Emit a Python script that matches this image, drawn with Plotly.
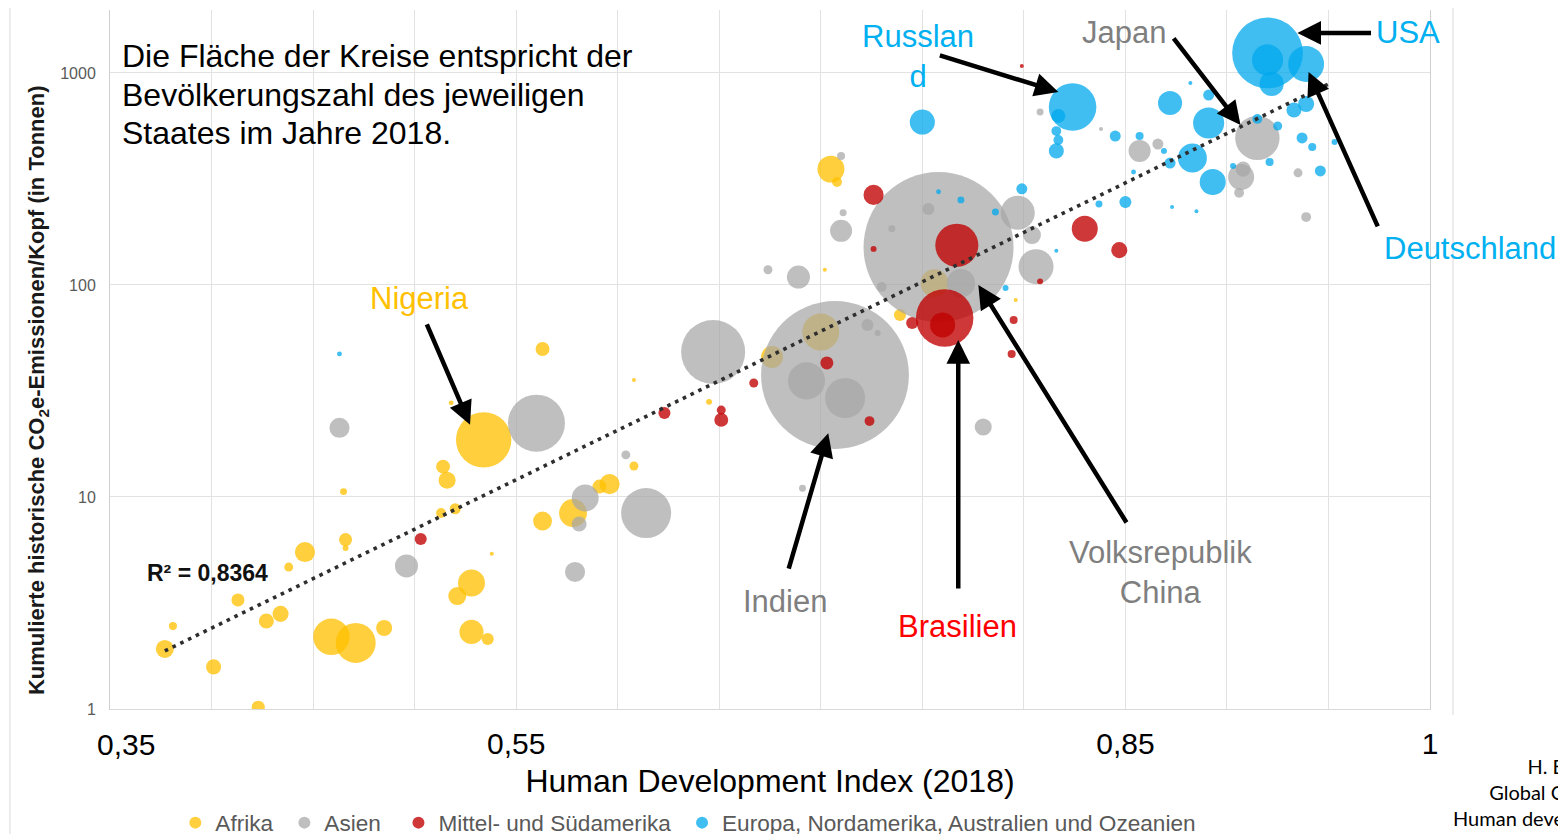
import math
import plotly.graph_objects as go

# ---------------- data ----------------
regions = ["Afrika", "Asien", "Mittel- und Südamerika",
           "Europa, Nordamerika, Australien und Ozeanien"]

hdi_afrika = [0.534, 0.518, 0.514, 0.516, 0.465, 0.513, 0.520, 0.466, 0.466, 0.446,
              0.438, 0.538, 0.528, 0.521, 0.413, 0.427, 0.434, 0.459, 0.471, 0.485,
              0.528, 0.536, 0.381, 0.377, 0.401, 0.423, 0.563, 0.608, 0.645, 0.608,
              0.596, 0.591, 0.578, 0.563, 0.676, 0.700, 0.705, 0.708, 0.702, 0.739,
              0.756, 0.796]
co2_afrika = [18.6, 27.8, 13.9, 12.0, 10.6, 8.4, 8.8, 6.3, 5.75, 5.5,
              4.67, 5.4, 3.93, 3.41, 3.27, 2.60, 2.81, 2.19, 2.05, 2.41,
              2.31, 2.14, 2.46, 1.92, 1.58, 1.02, 49.9, 35.6, 28.1, 14.0,
              11.5, 11.2, 8.4, 7.7, 45.7, 60.0, 352, 306, 118, 72.2,
              102, 85]
pop_afrika = [190, 1.5, 12, 18, 3, 6, 7.5, 10.5, 2.2, 25,
              5, 0.6, 45, 20, 10.5, 14, 16, 82, 99, 16,
              36, 9, 4, 20, 14, 10.5, 12, 1, 2.2, 5,
              25, 12, 48, 22, 30, 85, 45, 6, 1, 9,
              48, 1]

hdi_asien = [0.758, 0.707, 0.693, 0.712, 0.647, 0.560, 0.614, 0.463, 0.496, 0.584,
             0.581, 0.579, 0.604, 0.691, 0.780, 0.674, 0.689, 0.710, 0.711, 0.710,
             0.735, 0.753, 0.730, 0.723, 0.728, 0.769, 0.797, 0.804, 0.806, 0.808,
             0.838, 0.857, 0.866, 0.915, 0.907, 0.908, 0.906, 0.935, 0.939]
co2_asien = [151, 37.6, 35.3, 29.3, 48.3, 22.3, 8.4, 21.2, 4.73, 9.89,
             7.46, 4.43, 15.8, 11.0, 21.4, 118, 109, 180, 219, 406,
             184, 228, 97.9, 64.8, 59.4, 102, 219, 172, 122, 655,
             544, 429, 462, 494, 323, 352, 272, 338, 209]
pop_asien = [1393, 1353, 85, 99, 254, 201, 155, 25, 33, 45,
             14, 25, 5, 3, 18, 5, 33, 30, 3, 4,
             3, 9, 6, 9, 2.2, 50, 72, 20, 76, 3,
             1, 30, 7.5, 122, 42, 14, 6, 5, 6]

hdi_amerika = [0.761, 0.760, 0.767, 0.726, 0.726, 0.745, 0.830, 0.847, 0.808, 0.795,
               0.794, 0.799, 0.703, 0.724, 0.667, 0.651, 0.651, 0.623, 0.503]
co2_amerika = [69.9, 64.8, 154, 266, 148, 66.2, 184, 146, 104, 68.4,
               47.3, 1079, 42.9, 22.8, 34.5, 23.1, 25.7, 24.9, 6.34]
pop_amerika = [205, 39, 115, 25, 2.2, 9, 42, 16, 2.2, 4,
               4, 1, 10.5, 6, 5, 12, 5, 9, 9]

hdi_europa = [0.920, 0.920, 0.922, 0.939, 0.824, 0.817, 0.816, 0.817, 0.816, 0.750,
              0.845, 0.857, 0.869, 0.872, 0.882, 0.891, 0.891, 0.915, 0.883, 0.872,
              0.893, 0.903, 0.921, 0.925, 0.933, 0.939, 0.937, 0.942, 0.946, 0.953,
              0.850, 0.837, 0.854, 0.873, 0.885, 0.799, 0.786, 0.769, 0.758, 0.791,
              0.816, 0.463]
co2_europa = [1243, 1152, 888, 1102, 691, 627, 532, 483, 429, 587,
              504, 504, 429, 722, 897, 787, 581, 607, 397, 376,
              306, 364, 380, 562, 669, 714, 494, 448, 345, 473,
              246, 241, 341, 233, 223, 284, 221, 252, 275, 96.8,
              145, 47.3]
pop_europa = [310, 60, 36, 80, 140, 12, 6, 6, 14, 39,
              7.5, 4, 2.2, 36, 1, 7.5, 60, 6, 52, 7.5,
              42, 2.2, 4, 5, 14, 16, 7.5, 4, 7.5, 2.2,
              9, 3, 1.5, 1, 0.25, 7.5, 3, 3, 1.5, 2.2,
              0.56, 1.5]

# exponential trend line (end points)
trend_hdi = [0.377, 0.951]
trend_co2 = [1.88, 897]
r2_text = "R² = 0,8364"

x_tickvals = [0.55, 0.85, 1.0]
x_ticktext = ["0,55", "0,85", "1"]
x_first_label = "0,35"
y_tickvals = [1, 10, 100, 1000]
y_ticktext = ["1", "10", "100", "1000"]

# country labels (paper position) and arrows (data coords: tail -> head)
label_text = ["Nigeria", "Russlan<br>d", "Japan", "USA", "Deutschland",
              "Indien", "Brasilien", "Volksrepublik<br>China"]
label_px = [0.2341, 0.6121, 0.7682, 0.9833, 1.0303, 0.5114, 0.6424, 0.7955]
label_py = [0.5866, 0.9335, 0.9671, 0.9671, 0.6581, 0.1545, 0.1187, 0.1953]
label_color = ["#FFC000", "#00B0F0", "#7F7F7F", "#00B0F0", "#00B0F0",
               "#7F7F7F", "#FF0000", "#7F7F7F"]
arrow_tail_hdi = [0.5057, 0.7579, 0.8732, 0.9717, 0.9746, 0.6840, 0.7677, 0.8510]
arrow_tail_co2 = [66.2, 1216, 1479, 1545, 185.8, 4.52, 3.64, 7.46]
arrow_head_hdi = [0.5273, 0.8170, 0.9067, 0.9347, 0.9402, 0.7037, 0.7677, 0.7776]
arrow_head_co2 = [21.9, 813, 568, 1545, 1011, 20.0, 55.0, 100]

heading_lines = ["Die Fläche der Kreise entspricht der",
                 "Bevölkerungszahl des jeweiligen",
                 "Staates im Jahre 2018."]
heading_y = [0.9342, 0.8784, 0.8240]
source_text = "H. E<br>Global C<br>Human deve"
y_title = "<b>Kumulierte historische CO<sub>2</sub>e-Emissionen/Kopf (in Tonnen)</b>"

# ---------------- styling ----------------
FONT = "Liberation Sans, Arial, sans-serif"
colors = ["#FFC000", "#A6A6A6", "#C00000", "#00A8EC"]
opacities = [0.76, 0.72, 0.78, 0.75]
legend_pad = ["\u00a0", "\u00a0\u00a0", "\u00a0", ""]
SIZEREF = 2 * 1393 / 150 ** 2

fig = go.Figure()
series = [(hdi_afrika, co2_afrika, pop_afrika),
          (hdi_asien, co2_asien, pop_asien),
          (hdi_amerika, co2_amerika, pop_amerika),
          (hdi_europa, co2_europa, pop_europa)]
for name, pad, (xs, ys, ps), c, op in zip(regions, legend_pad, series, colors, opacities):
    fig.add_trace(go.Scatter(
        x=xs, y=ys, mode="markers", name=name + pad,
        marker=dict(size=ps, sizemode="area", sizeref=SIZEREF, sizemin=2,
                    color=c, opacity=op, line=dict(width=0)),
        hovertemplate=name + ": HDI %{x}, %{y} t<extra></extra>"))

fig.add_trace(go.Scatter(
    x=trend_hdi, y=trend_co2, mode="lines", showlegend=False, hoverinfo="skip",
    line=dict(color="#2E2E2E", width=3.6, dash="3.6px,5px")))

annotations = []
for line, yy in zip(heading_lines, heading_y):
    annotations.append(dict(xref="paper", yref="paper", x=0.0076, y=yy,
                            xanchor="left", yanchor="middle", text=line,
                            showarrow=False,
                            font=dict(family=FONT, size=32, color="black")))
for t, px, py, c in zip(label_text, label_px, label_py, label_color):
    annotations.append(dict(xref="paper", yref="paper", x=px, y=py, text=t,
                            showarrow=False, xanchor="center", yanchor="middle",
                            align="center",
                            font=dict(family=FONT, size=31, color=c)))
for tx, ty, hx, hy in zip(arrow_tail_hdi, arrow_tail_co2, arrow_head_hdi, arrow_head_co2):
    annotations.append(dict(xref="x", yref="y", axref="x", ayref="y",
                            x=hx, y=math.log10(hy), ax=tx, ay=math.log10(ty),
                            text="", showarrow=True, arrowhead=2, arrowsize=1.05,
                            arrowwidth=4.5, arrowcolor="black",
                            standoff=0, startstandoff=0))
annotations.append(dict(xref="paper", yref="paper", x=0.0742, y=0.1946,
                        text="<b>" + r2_text + "</b>", showarrow=False,
                        xanchor="center", yanchor="middle",
                        font=dict(family=FONT, size=23, color="#111111")))
annotations.append(dict(xref="paper", yref="paper", x=1.1030, y=-0.1187,
                        text=source_text, showarrow=False, xanchor="right",
                        yanchor="middle", align="right",
                        font=dict(family="Lato, Liberation Sans, sans-serif",
                                  size=20, color="black")))
annotations.append(dict(xref="paper", yref="paper", x=-0.0545, y=0.4564,
                        text=y_title, textangle=-90, showarrow=False,
                        xanchor="center", yanchor="middle",
                        font=dict(family=FONT, size=22, color="#1A1A1A")))
annotations.append(dict(xref="paper", yref="paper", x=0.0121, y=-0.0515,
                        text=x_first_label, showarrow=False,
                        xanchor="center", yanchor="middle",
                        font=dict(family=FONT, size=30, color="black")))

GRID = "#E2E2E2"
fig.update_layout(
    width=1558, height=826,
    margin=dict(l=102, r=136, t=2, b=125, pad=0, autoexpand=False),
    paper_bgcolor="white", plot_bgcolor="white",
    font=dict(family=FONT),
    showlegend=True,
    legend=dict(orientation="h", x=0.0495, y=-0.163, xanchor="left", yanchor="middle",
                font=dict(family=FONT, size=22.6, color="#595959"),
                itemsizing="constant", bgcolor="rgba(0,0,0,0)"),
    annotations=annotations,
    shapes=[
        dict(type="line", xref="paper", yref="paper", x0=1.0174, x1=1.0174,
             y0=-0.0086, y1=1.02, line=dict(color="#E6E6E6", width=1.5)),
        dict(type="line", xref="paper", yref="paper", x0=-0.0758, x1=-0.0758,
             y0=-0.18, y1=1.02, line=dict(color="#E6E6E6", width=1.5)),
        dict(type="line", xref="paper", yref="paper", x0=-0.09, x1=1.11,
             y0=1.0135, y1=1.0135, line=dict(color="#C5DDF3", width=2)),
    ],
)
fig.update_xaxes(
    range=[0.35, 1.0], tickvals=x_tickvals, ticktext=x_ticktext,
    showgrid=True, gridcolor=GRID, gridwidth=1, zeroline=False,
    minor=dict(dtick=0.05, tick0=0.35, showgrid=True, gridcolor=GRID, gridwidth=1),
    showline=True, linecolor="#D9D9D9", linewidth=1,
    ticks="", ticklabelstandoff=8, automargin=False,
    tickfont=dict(family=FONT, size=30, color="black"),
    title=dict(text="Human Development Index (2018)", standoff=10,
               font=dict(family=FONT, size=32, color="black")),
)
fig.update_yaxes(
    type="log", range=[0, 3.297], tickvals=y_tickvals, ticktext=y_ticktext,
    showgrid=True, gridcolor=GRID, gridwidth=1, zeroline=False,
    showline=True, linecolor="#CFCFCF", linewidth=1, mirror=True,
    ticks="", ticklabelstandoff=10, automargin=False,
    tickfont=dict(family=FONT, size=16, color="#595959"),
)

fig.write_html("out.html")
